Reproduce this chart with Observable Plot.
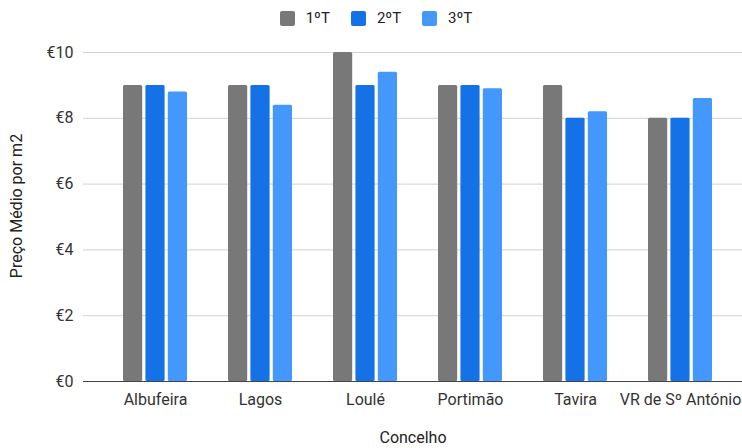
<!DOCTYPE html>
<html>
<head>
<meta charset="utf-8">
<script src="https://cdn.jsdelivr.net/npm/d3@7"></script>
<script src="https://cdn.jsdelivr.net/npm/@observablehq/plot@0.6"></script>
<style>
  html, body { margin: 0; padding: 0; background: #fff; }
  body { width: 742px; height: 448px; overflow: hidden; font-family: Roboto, "Noto Sans", sans-serif; }
  #legend { height: 36px; display: flex; justify-content: center; align-items: center; gap: 21px; padding-left: 10px; box-sizing: border-box; font-size: 15px; color: #222; }
  .item { display: flex; align-items: center; gap: 11px; }
  .sw { width: 15px; height: 15px; border-radius: 2px; }
</style>
</head>
<body>
<div id="legend"></div>
<div id="chart"></div>
<script>
const concelhos = ["Albufeira", "Lagos", "Loulé", "Portimão", "Tavira", "VR de Sº António"];
const series = ["1ºT", "2ºT", "3ºT"];
const t1 = [9, 9, 10, 9, 9, 8];
const t2 = [9, 9, 9, 9, 8, 8];
const t3 = [8.8, 8.4, 9.4, 8.9, 8.2, 8.6];
const yTicks = [0, 2, 4, 6, 8, 10];
const colors = ["#787878", "#1472e6", "#4497fb"];

const values = [t1, t2, t3];
const legend = document.getElementById("legend");
series.forEach((s, i) => {
  const it = document.createElement("div");
  it.className = "item";
  it.innerHTML = `<div class="sw" style="background:${colors[i]}"></div><span>${s}</span>`;
  legend.appendChild(it);
});

const BW = 19.6, GAP = 2.8, GROUP = 3 * BW + 2 * GAP;
const insets = [
  {insetLeft: 0, insetRight: GROUP - BW},
  {insetLeft: BW + GAP, insetRight: BW + GAP},
  {insetLeft: GROUP - BW, insetRight: 0}
];

const barMarks = series.map((s, i) => Plot.barY(
  concelhos.map((c, j) => ({concelho: c, valor: values[i][j]})),
  {x: "concelho", y: "valor", fill: colors[i], rx: 1.5, ...insets[i]}
));

const chart = Plot.plot({
  width: 742,
  height: 412,
  marginTop: 16,
  marginBottom: 67,
  marginLeft: 83,
  marginRight: 0,
  style: {fontFamily: "Roboto, sans-serif", fontSize: "16px", color: "#333", background: "#fff", overflow: "visible"},
  x: {domain: concelhos, range: [101, 734], paddingInner: 1 - GROUP / 105.5, paddingOuter: (1 - GROUP / 105.5) / 2, align: 0.5, label: null, tickSize: 0, tickPadding: 12.5},
  y: {domain: [0, 10], ticks: yTicks, tickFormat: d => "€" + d, label: null, tickSize: 0, tickPadding: 10},
  marks: [
    Plot.ruleY(yTicks.filter(d => d !== 0), {stroke: "#d0d0d0", strokeWidth: 1}),
    ...barMarks,
    Plot.ruleY([0], {stroke: "#444", strokeWidth: 1.2}),
    Plot.text(["Concelho"], {frameAnchor: "bottom", dy: 61, fill: "#222", fontSize: 16}),
    Plot.text(["Preço Médio por m2"], {frameAnchor: "left", textAnchor: "middle", rotate: -90, dx: -67, dy: -11, fill: "#222", fontSize: 16})
  ]
});
document.getElementById("chart").appendChild(chart);
</script>
</body>
</html>
